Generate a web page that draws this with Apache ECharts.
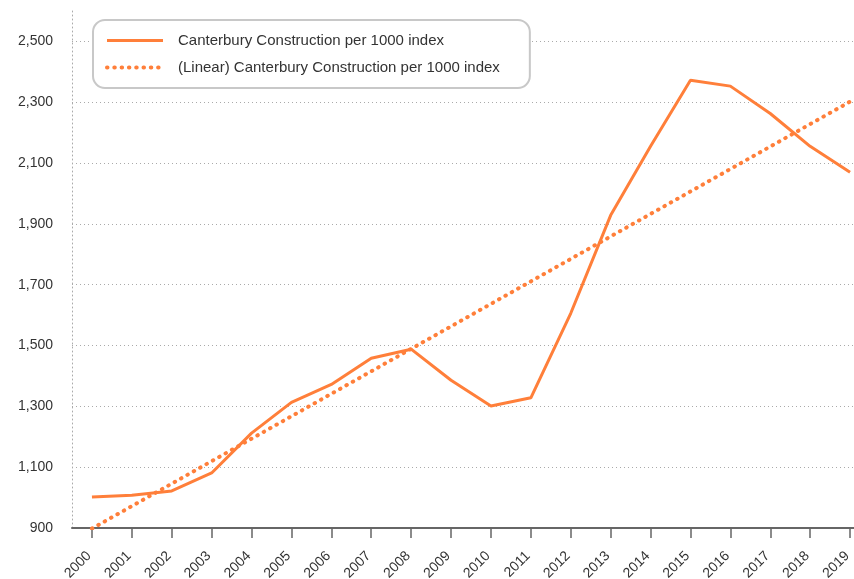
<!DOCTYPE html>
<html><head><meta charset="utf-8">
<script src="https://cdn.jsdelivr.net/npm/echarts@6/dist/echarts.min.js"></script>
<style>html,body{margin:0;padding:0;background:#fff}#c{width:854px;height:579px}</style>
</head><body><div id="c"></div>
<script>
const years = ['2000','2001','2002','2003','2004','2005','2006','2007','2008','2009','2010','2011','2012','2013','2014','2015','2016','2017','2018','2019'];
const construction = [1002, 1008, 1022, 1081, 1212, 1313, 1372, 1458, 1488, 1386, 1301, 1328, 1606, 1928, 2155, 2372, 2353, 2263, 2155, 2070];
const trendEnds = [['2000', 898], ['2019', 2302]];
const seriesNames = ['Canterbury Construction per 1000 index', '(Linear) Canterbury Construction per 1000 index'];
const orange = '#FF7F3A';
const dotted = {color: orange, width: 4, type: [0.5, 6.8], cap: 'round'};
const solid = {color: orange, width: 3};
const chart = echarts.init(document.getElementById('c'));
chart.setOption({
  animation: false,
  textStyle: {fontFamily: 'Liberation Sans, Arial, sans-serif'},
  grid: {left: 72, width: 798, top: 11, bottom: 51, containLabel: false, outerBoundsMode: 'none'},
  legend: {
    orient: 'vertical', left: 93, top: 20,
    padding: [13, 30, 13, 12],
    itemGap: 12, itemWidth: 56, itemHeight: 14,
    borderColor: '#c8c8c8', borderWidth: 2, borderRadius: 12,
    backgroundColor: '#fff',
    itemStyle: {opacity: 0},
    textStyle: {fontSize: 15, color: '#333', padding: [0, 0, 0, 10]},
    data: [
      {name: seriesNames[0], lineStyle: solid},
      {name: seriesNames[1], lineStyle: dotted}
    ]
  },
  xAxis: {
    type: 'category', data: years, boundaryGap: true,
    axisLine: {show: true, lineStyle: {color: '#666', width: 2}},
    axisTick: {show: true, alignWithLabel: true, inside: false, length: 10, lineStyle: {color: '#666', width: 1.5}},
    axisLabel: {rotate: 45, fontSize: 14, color: '#333', margin: 23, padding: [0, 4, 0, 0], interval: 0},
    splitLine: {show: false}
  },
  yAxis: {
    type: 'value', min: 900, max: 2600, interval: 200,
    axisLine: {show: true, lineStyle: {color: '#aaa', width: 1, type: [1, 3]}},
    axisTick: {show: false},
    axisLabel: {fontSize: 14, color: '#333', margin: 19, showMaxLabel: false,
      formatter: v => v.toLocaleString('en-US')},
    splitLine: {show: true, showMinLine: false, showMaxLine: false, lineStyle: {color: '#aaa', width: 1, type: [1, 3]}}
  },
  series: [
    {
      name: seriesNames[0], type: 'line', data: construction,
      symbol: 'none',
      lineStyle: solid, itemStyle: {color: orange}
    },
    {
      name: seriesNames[1], type: 'line', data: trendEnds,
      symbol: 'none', connectNulls: true,
      lineStyle: dotted, itemStyle: {color: orange}
    }
  ]
});
</script></body></html>
